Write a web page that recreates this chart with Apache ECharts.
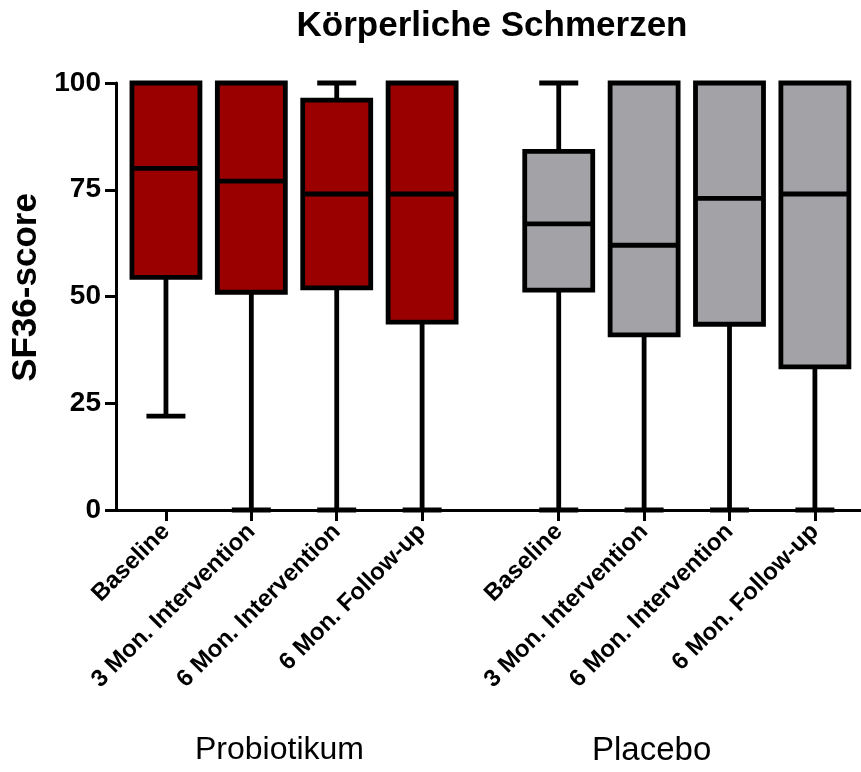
<!DOCTYPE html>
<html>
<head>
<meta charset="utf-8">
<title>Körperliche Schmerzen</title>
<script src="https://cdn.jsdelivr.net/npm/echarts@6/dist/echarts.min.js"></script>
<style>
  html, body { margin: 0; padding: 0; background: #fff; }
  #chart { width: 861px; height: 772px; }
</style>
</head>
<body>
<div id="chart"></div>
<script>
// Timepoints shown under each treatment group
const categories = ['Baseline', '3 Mon. Intervention', '6 Mon. Intervention', '6 Mon. Follow-up'];
const groups = ['Probiotikum', 'Placebo'];
const yTicks = [0, 25, 50, 75, 100];

// SF36 bodily pain score summaries: min, Q1, median, Q3, max
const probMin    = [22, 0, 0, 0];
const probQ1     = [54.5, 51, 52, 44];
const probMedian = [80, 77, 74, 74];
const probQ3     = [100, 100, 96, 100];
const probMax    = [100, 100, 100, 100];

const placMin    = [0, 0, 0, 0];
const placQ1     = [51.5, 41, 43.5, 33.5];
const placMedian = [67, 62, 73, 74];
const placQ3     = [84, 100, 100, 100];
const placMax    = [100, 100, 100, 100];

// Layout of the x positions: each group holds the four timepoints, groups separated by a gap
const GROUP_GAP = 0.6;
function xPos(g, i) { return g * (categories.length + GROUP_GAP) + i + 1; }

const FONT = "'Liberation Sans', Arial, Helvetica, sans-serif";
const colors = ['#9b0000', '#a3a2a7'];

const positions = [];
const labelAt = {};
groups.forEach((g, gi) => categories.forEach((c, i) => {
  const p = xPos(gi, i);
  positions.push(p);
  labelAt[p.toFixed(2)] = c;
}));

function buildData(gi, mins, q1s, meds, q3s, maxs) {
  return categories.map((c, i) => [xPos(gi, i), mins[i], q1s[i], meds[i], q3s[i], maxs[i]]);
}

const BOX_W = 68;
const CAP_W = 39;
const LW = 4.8;

function renderBox(color) {
  return function (params, api) {
    const x = api.value(0);
    const cx = api.coord([x, 0])[0];
    const yMin = api.coord([x, api.value(1)])[1];
    const yQ1 = api.coord([x, api.value(2)])[1];
    const yMed = api.coord([x, api.value(3)])[1];
    const yQ3 = api.coord([x, api.value(4)])[1];
    const yMax = api.coord([x, api.value(5)])[1];
    const line = { stroke: '#000', lineWidth: LW, lineCap: 'butt' };
    const children = [];
    if (yMin > yQ1) {
      children.push({ type: 'line', shape: { x1: cx, y1: yQ1, x2: cx, y2: yMin }, style: line });
      children.push({ type: 'line', shape: { x1: cx - CAP_W / 2, y1: yMin, x2: cx + CAP_W / 2, y2: yMin }, style: line });
    }
    if (yMax < yQ3) {
      children.push({ type: 'line', shape: { x1: cx, y1: yQ3, x2: cx, y2: yMax }, style: line });
      children.push({ type: 'line', shape: { x1: cx - CAP_W / 2, y1: yMax, x2: cx + CAP_W / 2, y2: yMax }, style: line });
    }
    children.push({
      type: 'rect',
      shape: { x: cx - BOX_W / 2, y: yQ3, width: BOX_W, height: yQ1 - yQ3 },
      style: { fill: color, stroke: '#000', lineWidth: LW, lineJoin: 'miter' }
    });
    children.push({ type: 'line', shape: { x1: cx - BOX_W / 2, y1: yMed, x2: cx + BOX_W / 2, y2: yMed }, style: line });
    return { type: 'group', children: children };
  };
}

const chart = echarts.init(document.getElementById('chart'), null, { renderer: 'canvas' });

chart.setOption({
  animation: false,
  backgroundColor: '#fff',
  title: {
    text: 'Körperliche Schmerzen',
    left: 487,
    top: 4,
    textAlign: 'center',
    textStyle: { fontFamily: FONT, fontWeight: 'bold', fontSize: 35, color: '#000' }
  },
  grid: { left: 116, right: 0, top: 83, bottom: 262, containLabel: false },
  xAxis: {
    type: 'value',
    min: 0.415,
    max: 9.14,
    splitLine: { show: false },
    axisLine: { lineStyle: { color: '#000', width: 3 } },
    axisTick: { show: true, customValues: positions, length: 11, lineStyle: { color: '#000', width: 3 } },
    axisLabel: {
      customValues: positions,
      rotate: 45,
      margin: 18,
      color: '#000',
      fontFamily: FONT,
      fontWeight: 'bold',
      fontSize: 24,
      formatter: function (v) { return labelAt[Number(v).toFixed(2)] || ''; }
    }
  },
  yAxis: {
    type: 'value',
    min: 0,
    max: 100,
    interval: 25,
    name: 'SF36-score',
    nameLocation: 'middle',
    nameRotate: 90,
    nameGap: 70,
    nameTextStyle: { fontFamily: FONT, fontWeight: 'bold', fontSize: 35, color: '#000', padding: [0, 0, 0, 18] },
    splitLine: { show: false },
    axisLine: { show: true, lineStyle: { color: '#000', width: 3 } },
    axisTick: { show: true, length: 11, lineStyle: { color: '#000', width: 3 } },
    axisLabel: {
      margin: 15,
      color: '#000',
      fontFamily: FONT,
      fontWeight: 'bold',
      fontSize: 28,
      customValues: yTicks
    }
  },
  graphic: [
    { type: 'text', left: 195, top: 734, style: { text: groups[0], fontFamily: FONT, fontSize: 32, fill: '#000' } },
    { type: 'text', left: 592, top: 734, style: { text: groups[1], fontFamily: FONT, fontSize: 33, fill: '#000' } }
  ],
  series: [
    {
      name: groups[0],
      type: 'custom',
      clip: false,
      renderItem: renderBox(colors[0]),
      encode: { x: 0, y: [1, 2, 3, 4, 5] },
      data: buildData(0, probMin, probQ1, probMedian, probQ3, probMax)
    },
    {
      name: groups[1],
      type: 'custom',
      clip: false,
      renderItem: renderBox(colors[1]),
      encode: { x: 0, y: [1, 2, 3, 4, 5] },
      data: buildData(1, placMin, placQ1, placMedian, placQ3, placMax)
    }
  ]
});
</script>
</body>
</html>
